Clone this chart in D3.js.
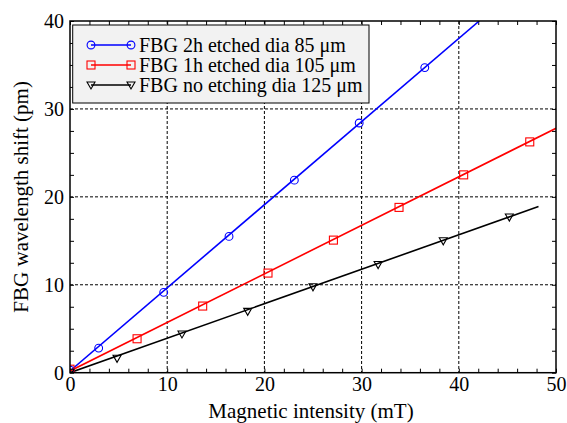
<!DOCTYPE html>
<html>
<head>
<meta charset="utf-8">
<script src="https://cdn.jsdelivr.net/npm/d3@7"></script>
<style>
html,body{margin:0;padding:0;background:#fff;}
svg{display:block;font-family:"Liberation Serif","Times New Roman",serif;}
svg text{font-family:"Liberation Serif","Times New Roman",serif;}
</style>
</head>
<body>
<svg id="chart" width="567" height="423"></svg>
<script>
// ---- data ----
const seriesNames = ["FBG 2h etched dia 85 \u03bcm", "FBG 1h etched dia 105 \u03bcm", "FBG no etching dia 125 \u03bcm"];
const blueX = [0, 2.95, 9.64, 16.36, 23.08, 29.75, 36.5];
const blueY = [0.3, 2.8, 9.14, 15.5, 21.9, 28.4, 34.7];
const redX = [0, 6.9, 13.65, 20.37, 27.1, 33.85, 40.5, 47.3];
const redY = [0.4, 3.86, 7.58, 11.33, 15.08, 18.8, 22.5, 26.25];
const blackX = [0, 4.84, 11.52, 18.28, 25.0, 31.7, 38.4, 45.2];
const blackY = [0.05, 1.64, 4.4, 6.98, 9.77, 12.3, 15.0, 17.7];
const blueFitX = [0, 42.1], blueFitY = [0.2, 40];
const redFitX = [0, 50], redFitY = [0.2, 27.8];
const blackFitX = [0, 48.2], blackFitY = [0, 18.9];
const xTicks = [0, 10, 20, 30, 40, 50];
const yTicks = [0, 10, 20, 30, 40];
const xLabel = "Magnetic intensity (mT)";
const yLabel = "FBG wavelength shift (pm)";

// ---- layout ----
const L = 70, R = 556, T = 21, B = 372.7;
const svg = d3.select("#chart");
const x = d3.scaleLinear().domain([0, 50]).range([L, R]);
const y = d3.scaleLinear().domain([0, 40]).range([B, T]);

svg.append("clipPath").attr("id", "clip").append("rect")
  .attr("x", L).attr("y", T).attr("width", R - L).attr("height", B - T);

// grid
const grid = svg.append("g").attr("stroke", "#000").attr("stroke-width", 1).attr("stroke-dasharray", "3,2");
xTicks.filter(v => v > 0 && v < 50).forEach(v => {
  grid.append("line").attr("x1", x(v)).attr("x2", x(v)).attr("y1", T).attr("y2", B);
});
yTicks.filter(v => v > 0 && v < 40).forEach(v => {
  grid.append("line").attr("y1", y(v)).attr("y2", y(v)).attr("x1", L).attr("x2", R);
});

// axes with inward ticks
const xMinor = d3.range(0, 50.01, 2);
const yMinor = d3.range(0, 40.01, 2.5);
const axB = svg.append("g").attr("transform", `translate(0,${B})`)
  .call(d3.axisTop(x).tickValues(xMinor).tickSize(4).tickFormat(""));
const axT = svg.append("g").attr("transform", `translate(0,${T})`)
  .call(d3.axisBottom(x).tickValues(xMinor).tickSize(4).tickFormat(""));
const axL = svg.append("g").attr("transform", `translate(${L},0)`)
  .call(d3.axisRight(y).tickValues(yMinor).tickSize(4).tickFormat(""));
const axRr = svg.append("g").attr("transform", `translate(${R},0)`)
  .call(d3.axisLeft(y).tickValues(yMinor).tickSize(4).tickFormat(""));
[axB, axT, axL, axRr].forEach(a => { a.select(".domain").remove(); a.selectAll("line").attr("stroke", "#000"); });

// tick labels
const xl = svg.append("g").attr("transform", `translate(0,${B})`)
  .call(d3.axisBottom(x).tickValues(xTicks).tickSize(0).tickPadding(16).tickFormat(d3.format("d")));
xl.attr("font-family", null);
xl.select(".domain").remove();
xl.selectAll("text").attr("font-size", 20).attr("fill", "#000").attr("dy", "0.1em");
const yl = svg.append("g").attr("transform", `translate(${L},0)`)
  .call(d3.axisLeft(y).tickValues(yTicks).tickSize(0).tickPadding(6).tickFormat(d3.format("d")));
yl.attr("font-family", null);
yl.select(".domain").remove();
yl.selectAll("text").attr("font-size", 20).attr("fill", "#000");

// series
const series = [
  {name: seriesNames[0], xs: blueX, ys: blueY, fx: blueFitX, fy: blueFitY, color: "#0000ff", sym: "circle"},
  {name: seriesNames[1], xs: redX, ys: redY, fx: redFitX, fy: redFitY, color: "#ff0000", sym: "square"},
  {name: seriesNames[2], xs: blackX, ys: blackY, fx: blackFitX, fy: blackFitY, color: "#000000", sym: "tri"}
];
const line = d3.line().x(d => x(d[0])).y(d => y(d[1]));
function marker(g, sym, color, cx, cy) {
  if (sym === "circle") {
    g.append("circle").attr("cx", cx).attr("cy", cy).attr("r", 3.9)
      .attr("fill", "none").attr("stroke", color).attr("stroke-width", 1.1);
  } else if (sym === "square") {
    g.append("rect").attr("x", cx - 4).attr("y", cy - 4).attr("width", 8).attr("height", 8)
      .attr("fill", "none").attr("stroke", color).attr("stroke-width", 1.1);
  } else {
    g.append("path").attr("d", `M${cx-4},${cy-3}L${cx+4},${cy-3}L${cx},${cy+4}Z`)
      .attr("fill", "none").attr("stroke", color).attr("stroke-width", 1.1);
  }
}
const plot = svg.append("g").attr("clip-path", "url(#clip)");
series.forEach(s => {
  plot.append("path").datum(s.fx.map((v, i) => [v, s.fy[i]])).attr("d", line)
    .attr("fill", "none").attr("stroke", s.color).attr("stroke-width", 1.6);
});
series.forEach(s => {
  s.xs.forEach((v, i) => marker(plot, s.sym, s.color, x(v), y(s.ys[i])));
});

// frame
svg.append("rect").attr("x", L).attr("y", T).attr("width", R - L).attr("height", B - T)
  .attr("fill", "none").attr("stroke", "#000").attr("stroke-width", 1.5);

// legend
const lg = svg.append("g");
lg.append("rect").attr("x", 72.7).attr("y", 25).attr("width", 296.3).attr("height", 78)
  .attr("fill", "#f2f2f2").attr("stroke", "#000").attr("stroke-width", 1);
series.forEach((s, i) => {
  const ly = 45 + i * 20;
  lg.append("line").attr("x1", 91).attr("x2", 131).attr("y1", ly).attr("y2", ly)
    .attr("stroke", s.color).attr("stroke-width", 1.6);
  marker(lg, s.sym, s.color, 91, ly);
  marker(lg, s.sym, s.color, 131, ly);
  lg.append("text").attr("x", 139).attr("y", ly + 6.5).attr("font-size", 20)
    .attr("fill", "#000").text(s.name);
});

// axis labels
svg.append("text").attr("x", 311).attr("y", 417.5).attr("text-anchor", "middle")
  .attr("font-size", 21).attr("fill", "#000").text(xLabel);
svg.append("text").attr("transform", `translate(28,${(T + B) / 2}) rotate(-90)`)
  .attr("text-anchor", "middle").attr("font-size", 21).attr("fill", "#000").text(yLabel);
</script>
</body>
</html>
